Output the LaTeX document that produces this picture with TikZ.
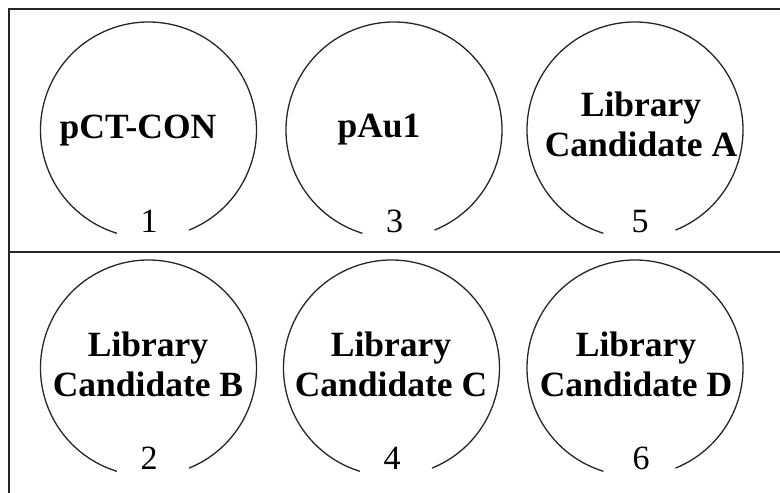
\documentclass[tikz,border=0pt]{standalone}
\usepackage{fontspec}
\setmainfont{Liberation Serif}
\begin{document}
\begin{tikzpicture}[x=1pt,y=1pt,
  frameline/.style={line width=1.8pt, draw=black!85},
  ring/.style={line width=1.3pt, draw=black!85},
  lbl/.style={font=\fontsize{35.5}{40}\selectfont\bfseries, align=center, inner sep=0pt},
  num/.style={font=\fontsize{34}{40}\selectfont, inner sep=0pt, anchor=base}]
\useasboundingbox (0,0) rectangle (780,493);
% frame
\coordinate (tl) at (9,484);
\coordinate (tr) at (780,484);
\coordinate (bl) at (9,0);
\coordinate (ml) at (9,241);
\coordinate (mr) at (780,241);
\draw[frameline] (bl) -- (tl) -- (tr);
\draw[frameline] (ml) -- (mr);
% circle centres
\coordinate (c1) at (148.5,363);
\coordinate (c3) at (394,363);
\coordinate (c5) at (635,363);
\coordinate (c2) at (148.5,125);
\coordinate (c4) at (391.5,125);
\coordinate (c6) at (635,125);
\foreach \c in {c1,c2,c3,c4,c5,c6}{
  \draw[ring] ([shift={(-68:108)}]\c) arc[start angle=-68, end angle=253, radius=108];
}
% labels
\node[lbl, anchor=base] (l1) at (138,354) {pCT-CON};
\node[lbl, anchor=base] (l3) at (379,355) {pAu1};
\node[lbl] (l5) at (641,369) {Library\\Candidate A};
\node[lbl] (l2) at (148,129) {Library\\Candidate B};
\node[lbl] (l4) at (391,129) {Library\\Candidate C};
\node[lbl] (l6) at (636,129) {Library\\Candidate D};
% numbers
\node[num] (n1) at (149,260) {1};
\node[num] (n3) at (394.5,260) {3};
\node[num] (n5) at (640,260) {5};
\node[num] (n2) at (149,23) {2};
\node[num] (n4) at (392,23) {4};
\node[num] (n6) at (641,23) {6};
\end{tikzpicture}
\end{document}
